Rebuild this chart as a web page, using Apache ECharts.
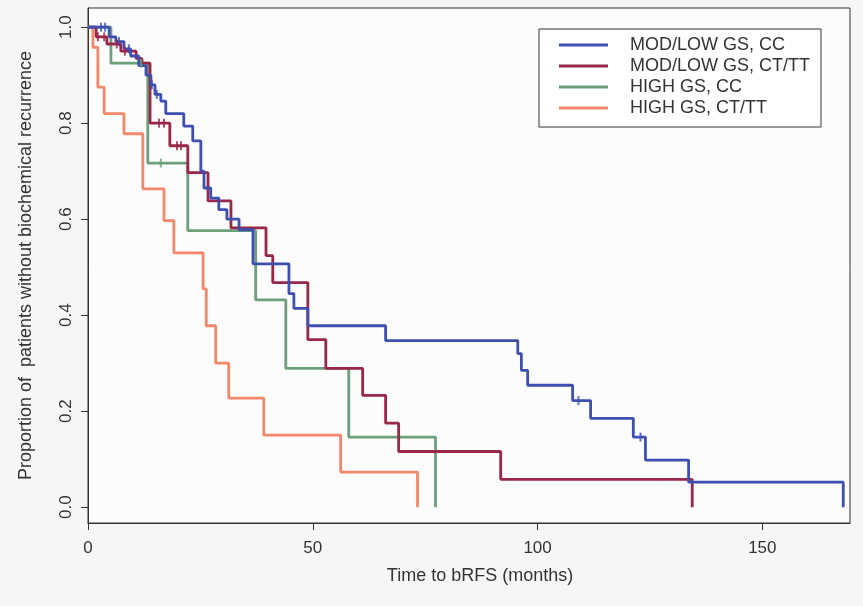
<!DOCTYPE html>
<html>
<head>
<meta charset="utf-8">
<script src="https://cdn.jsdelivr.net/npm/echarts@6/dist/echarts.min.js"></script>
<style>html,body{margin:0;padding:0;background:#f6f6f6;}#c{width:863px;height:606px;}</style>
</head>
<body>
<div id="c"></div>
<script>
// Series names
const seriesNames = ['MOD/LOW GS, CC', 'MOD/LOW GS, CT/TT', 'HIGH GS, CC', 'HIGH GS, CT/TT'];

// Kaplan-Meier step data: [months, proportion]
const modLowCC = [[0,1],[4.7,0.98],[6.2,0.97],[8.0,0.955],[9.5,0.94],[11.3,0.92],[12.9,0.90],[14.0,0.88],[14.9,0.86],[16.2,0.846],[17.3,0.82],[21.3,0.794],[23.3,0.763],[25.1,0.70],[25.8,0.665],[27.3,0.644],[29.1,0.62],[30.9,0.60],[33.6,0.578],[36.7,0.507],[44.7,0.445],[45.8,0.414],[48.9,0.378],[66.2,0.347],[95.6,0.32],[96.4,0.285],[97.8,0.254],[107.8,0.222],[111.8,0.185],[121.3,0.146],[124.0,0.098],[133.6,0.052],[168.0,0]];
const modLowCTTT = [[0,1],[1.8,0.98],[4.2,0.965],[7.3,0.95],[10.7,0.935],[12.0,0.925],[13.8,0.80],[18.2,0.753],[22.2,0.697],[26.7,0.638],[31.8,0.582],[39.6,0.524],[41.1,0.468],[48.9,0.349],[52.9,0.289],[61.1,0.233],[66.2,0.175],[69.1,0.116],[91.8,0.058],[134.4,0]];
const highCC = [[0,1],[5.1,0.925],[13.3,0.717],[22.2,0.576],[37.3,0.432],[44.0,0.289],[58.0,0.146],[77.3,0]];
const highCTTT = [[0,1],[1.1,0.958],[2.2,0.875],[3.6,0.82],[8.0,0.778],[12.2,0.663],[16.9,0.597],[19.1,0.53],[25.6,0.455],[26.3,0.378],[28.4,0.30],[31.3,0.227],[39.1,0.15],[56.2,0.073],[73.3,0]];

// Censoring marks: [months, proportion]
const censModLowCC = [[2.9,1],[3.8,1],[6.9,0.97],[9.1,0.955],[14.2,0.88],[15.3,0.86],[109.1,0.222],[122.9,0.146]];
const censModLowCTTT = [[2.2,0.98],[3.6,0.98],[6.4,0.965],[8.2,0.95],[15.8,0.80],[16.9,0.80],[19.8,0.753],[20.7,0.753]];
const censHighCC = [[11.8,0.925],[16.2,0.717]];

// Tick labels
const xTicks = [0, 50, 100, 150];
const yTicks = [0, 0.2, 0.4, 0.6, 0.8, 1.0];

const colors = ['#3d4fb0', '#9a2648', '#6c9f7a', '#f2876a'];
const curves = [modLowCC, modLowCTTT, highCC, highCTTT];
const cens = [censModLowCC, censModLowCTTT, censHighCC, []];

const FONT = '"Liberation Sans", Arial, Helvetica, sans-serif';

const series = [];
curves.forEach((d, i) => {
  series.push({
    name: seriesNames[i], type: 'line', step: 'end', data: d,
    showSymbol: false, lineStyle: { width: 2.8, color: colors[i] },
    itemStyle: { color: colors[i] }, z: 3 + (3 - i)
  });
});
cens.forEach((d, i) => {
  if (!d.length) return;
  series.push({
    name: seriesNames[i] + ' censored', type: 'scatter', data: d,
    symbol: 'rect', symbolSize: [2, 9], itemStyle: { color: colors[i] }, z: 8
  });
});

const chart = echarts.init(document.getElementById('c'), null, { renderer: 'canvas' });
chart.setOption({
  animation: false,
  backgroundColor: '#f6f6f6',
  textStyle: { fontFamily: FONT },
  grid: { left: 88, right: 13, top: 8, bottom: 83, show: true, borderColor: '#333', borderWidth: 1, backgroundColor: '#fcfcfc' },
  legend: {
    data: seriesNames.map(n => ({ name: n, icon: 'rect' })),
    orient: 'vertical', left: 539, top: 29,
    padding: [7, 11, 10, 20],
    itemWidth: 49, itemHeight: 3, itemGap: 3,
    borderColor: '#333', borderWidth: 1, backgroundColor: '#fff',
    textStyle: { fontFamily: FONT, fontSize: 18, color: '#333', lineHeight: 18, padding: [0, 0, 0, 17] }
  },
  xAxis: {
    type: 'value', min: 0, max: 169.5,
    name: 'Time to bRFS (months)', nameLocation: 'middle', nameGap: 44,
    nameTextStyle: { fontFamily: FONT, fontSize: 18, color: '#333', padding: [0, 0, 0, 22] },
    axisLine: { show: true, onZero: false, lineStyle: { color: '#333', width: 1 } },
    axisTick: { show: true, length: 7, lineStyle: { color: '#333' }, customValues: xTicks },
    axisLabel: { fontFamily: FONT, fontSize: 17, color: '#333', margin: 17, customValues: xTicks },
    splitLine: { show: false }
  },
  yAxis: {
    type: 'value', min: -0.033, max: 1.04,
    name: 'Proportion of  patients without biochemical recurrence', nameLocation: 'middle', nameGap: 53, nameRotate: 90,
    nameTextStyle: { fontFamily: FONT, fontSize: 18, color: '#333' },
    axisLine: { show: true, onZero: false, lineStyle: { color: '#333', width: 1 } },
    axisTick: { show: true, length: 7, lineStyle: { color: '#333' }, customValues: yTicks },
    axisLabel: { fontFamily: FONT, fontSize: 17, color: '#333', margin: 13, rotate: 90, customValues: yTicks, formatter: v => v.toFixed(1) },
    splitLine: { show: false }
  },
  series: series
});
</script>
</body>
</html>
